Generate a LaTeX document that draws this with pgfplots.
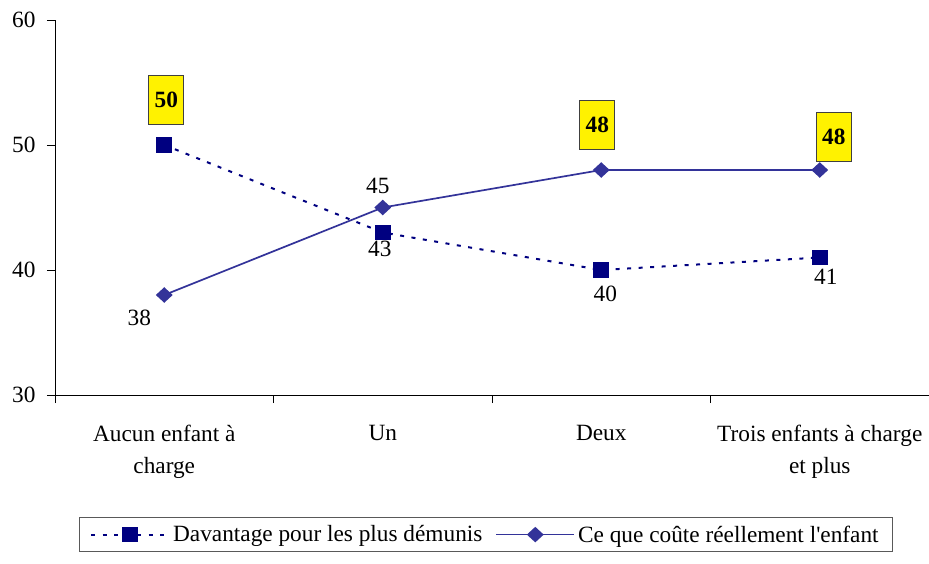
\documentclass[border=0pt]{standalone}
\usepackage{pgfplots}
\pgfplotsset{compat=1.18}
\usepackage{fontspec}
\setmainfont{Liberation Serif}
\usetikzlibrary{calc}
\definecolor{navyA}{HTML}{000080}
\definecolor{blueB}{HTML}{333399}
\newcommand{\fs}{\fontsize{23.3}{32}\selectfont}
\begin{document}
\begin{tikzpicture}
\begin{axis}[
  name=ax,
  scale only axis,
  width=874pt, height=375pt,
  xmin=0, xmax=4, ymin=30, ymax=60,
  axis x line=bottom, axis y line=left,
  axis line style={-, black, line width=0.8pt},
  ytick={30,40,50,60},
  xtick={0.5,1.5,2.5,3.5},
  xticklabels={Aucun enfant à\\charge, Un, Deux, Trois enfants à charge\\et plus},
  xticklabel style={align=center, yshift=-19pt},
  yticklabel style={xshift=-8pt},
  tick label style={font=\fs},
  major x tick style={draw=none},
  minor xtick={0,1,2,3},
  minor tick length=8pt,
  major tick length=8pt,
  tick align=outside,
  tick style={black, line width=0.8pt},
  /pgf/number format/assume math mode=true,
  clip=false,
  legend style={at={(0.493,-0.326)}, anchor=north, legend columns=2,
    draw=black!65, line width=0.8pt, font=\fs, inner xsep=11pt, inner ysep=5pt,
    nodes={inner xsep=3pt, inner ysep=3pt},
    /tikz/every even column/.append style={column sep=10pt}},
  legend cell align=left,
  legend image code/.code={\draw[mark repeat=2,mark phase=2] plot coordinates {(0pt,0pt) (39pt,0pt) (78pt,0pt)};},
]
\addplot[navyA, line width=2pt, dash pattern=on 4pt off 7.5pt, mark=square*, mark size=6.8pt, mark options={solid, fill=navyA}]
  coordinates {(0.5,50) (1.5,43) (2.5,40) (3.5,41)};
\addlegendentry{Davantage pour les plus démunis}
\addplot[blueB, line width=1.7pt, mark=diamond*, mark size=6.6pt, mark options={solid, fill=blueB, xscale=1.45}]
  coordinates {(0.5,38) (1.5,45) (2.5,48) (3.5,48)};
\addlegendentry{Ce que coûte réellement l\textquotesingle enfant}

% plain value labels
\pgfplotsset{lbl/.style={draw=none, mark=none, forget plot, point meta=explicit symbolic, nodes near coords,
  nodes near coords style={anchor=center, font=\fs, text=black}}}
\addplot[lbl, nodes near coords style={xshift=-25pt, yshift=-23pt}] coordinates {(0.5,38) [38]};
\addplot[lbl, nodes near coords style={xshift=-5pt, yshift=22pt}] coordinates {(1.5,45) [45]};
\addplot[lbl, nodes near coords style={xshift=-3pt, yshift=-16pt}] coordinates {(1.5,43) [43]};
\addplot[lbl, nodes near coords style={xshift=4pt, yshift=-24pt}] coordinates {(2.5,40) [40]};
\addplot[lbl, nodes near coords style={xshift=6pt, yshift=-19pt}] coordinates {(3.5,41) [41]};
% boxed labels
\pgfplotsset{box/.style={lbl, nodes near coords style={fill=yellow, draw=black!75, line width=0.7pt, font=\bfseries\fs, minimum width=35pt, minimum height=49pt, inner sep=0pt}}}
\addplot[box, nodes near coords style={xshift=2pt, yshift=45pt}] coordinates {(0.5,50) [50]};
\addplot[box, nodes near coords style={xshift=-4pt, yshift=45pt}] coordinates {(2.5,48) [48]};
\addplot[box, nodes near coords style={xshift=14pt, yshift=33pt}] coordinates {(3.5,48) [48]};
\end{axis}
\pgfresetboundingbox
\path[use as bounding box] ($(ax.south west)+(-55pt,-168pt)$) rectangle ($(ax.north east)+(0pt,20pt)$);
\end{tikzpicture}
\end{document}
